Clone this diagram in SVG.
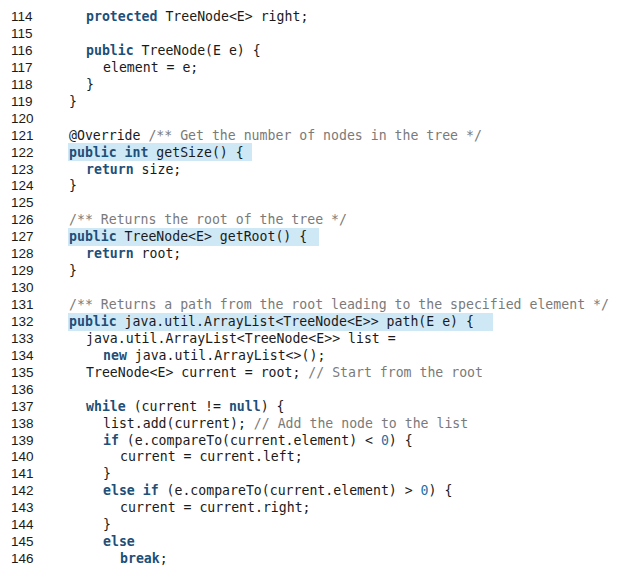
<svg xmlns="http://www.w3.org/2000/svg" width="618" height="565" viewBox="0 0 618 565">
<style>
.n{font-family:"Liberation Sans",sans-serif;font-size:13.5px;fill:#1a1a1a}
.c{font-family:"DejaVu Sans Mono","Liberation Mono",monospace;font-size:13.2px;fill:#1a1a1a;white-space:pre}
.k{font-weight:bold;fill:#1d4f78}
.m{fill:#7a7a7a}
.d{fill:#1d6fa5}
.h{fill:#cfe8f6}
</style>
<rect width="618" height="565" fill="#fff"/>
<g id="highlights">
<rect class="h" x="68" y="143" width="184" height="18"/>
<rect class="h" x="68" y="228" width="251" height="18"/>
<rect class="h" x="68" y="313" width="425" height="18"/>
</g>
<g id="linenums" class="n">
<text x="11" y="21">114</text><text x="11" y="38">115</text><text x="11" y="55">116</text><text x="11" y="72">117</text><text x="11" y="89">118</text><text x="11" y="106">119</text><text x="11" y="123">120</text><text x="11" y="140">121</text><text x="11" y="157">122</text><text x="11" y="174">123</text><text x="11" y="190">124</text><text x="11" y="207">125</text><text x="11" y="224">126</text><text x="11" y="241">127</text><text x="11" y="258">128</text><text x="11" y="275">129</text><text x="11" y="292">130</text><text x="11" y="309">131</text><text x="11" y="326">132</text><text x="11" y="343">133</text><text x="11" y="360">134</text><text x="11" y="377">135</text><text x="11" y="394">136</text><text x="11" y="411">137</text><text x="11" y="428">138</text><text x="11" y="445">139</text><text x="11" y="461">140</text><text x="11" y="478">141</text><text x="11" y="495">142</text><text x="11" y="512">143</text><text x="11" y="529">144</text><text x="11" y="546">145</text><text x="11" y="563">146</text>
</g>
<g id="code" class="c">
<text x="86" y="21"><tspan class="k">protected</tspan> TreeNode&lt;E&gt; right;</text>
<text x="86" y="55"><tspan class="k">public</tspan> TreeNode(E e) {</text>
<text x="103" y="72">element = e;</text>
<text x="86" y="89">}</text>
<text x="69" y="106">}</text>
<text x="69" y="140">@Override <tspan class="m">/** Get the number of nodes in the tree */</tspan></text>
<text x="69" y="157"><tspan class="k">public int</tspan> getSize() {</text>
<text x="86" y="174"><tspan class="k">return</tspan> size;</text>
<text x="69" y="190">}</text>
<text x="69" y="224" class="m">/** Returns the root of the tree */</text>
<text x="69" y="241"><tspan class="k">public</tspan> TreeNode&lt;E&gt; getRoot() {</text>
<text x="86" y="258"><tspan class="k">return</tspan> root;</text>
<text x="69" y="275">}</text>
<text x="69" y="309" class="m">/** Returns a path from the root leading to the specified element */</text>
<text x="69" y="326"><tspan class="k">public</tspan> java.util.ArrayList&lt;TreeNode&lt;E&gt;&gt; path(E e) {</text>
<text x="86" y="343">java.util.ArrayList&lt;TreeNode&lt;E&gt;&gt; list =</text>
<text x="103" y="360"><tspan class="k">new</tspan> java.util.ArrayList&lt;&gt;();</text>
<text x="86" y="377">TreeNode&lt;E&gt; current = root; <tspan class="m">// Start from the root</tspan></text>
<text x="86" y="411"><tspan class="k">while</tspan> (current != <tspan class="k">null</tspan>) {</text>
<text x="103" y="428">list.add(current); <tspan class="m">// Add the node to the list</tspan></text>
<text x="103" y="445"><tspan class="k">if</tspan> (e.compareTo(current.element) &lt; <tspan class="d">0</tspan>) {</text>
<text x="120" y="461">current = current.left;</text>
<text x="103" y="478">}</text>
<text x="103" y="495"><tspan class="k">else if</tspan> (e.compareTo(current.element) &gt; <tspan class="d">0</tspan>) {</text>
<text x="120" y="512">current = current.right;</text>
<text x="103" y="529">}</text>
<text x="103" y="546"><tspan class="k">else</tspan></text>
<text x="120" y="563"><tspan class="k">break</tspan>;</text>
</g>
</svg>
